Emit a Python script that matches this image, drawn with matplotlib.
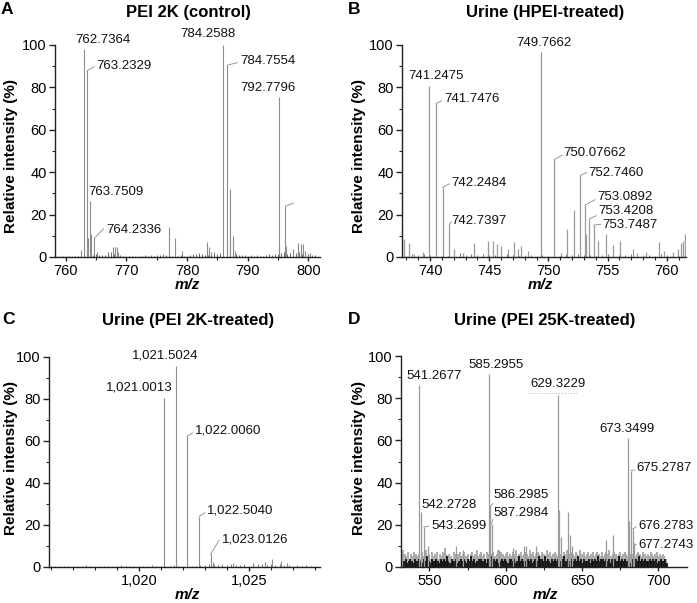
# -*- coding: utf-8 -*-
"""
Mass spectra of PEI 2K control and urine samples (four panels).
"""

import numpy as np
import matplotlib
matplotlib.use("Agg")
import matplotlib.pyplot as plt
from matplotlib.ticker import MultipleLocator, FuncFormatter

plt.rcParams['font.family'] = ['Liberation Sans', 'DejaVu Sans']

# ---------------- data ----------------
# Panel A: PEI 2K (control)
peaks_a_mz = [762.6, 763.08, 763.57, 763.68, 764.01, 764.18, 764.73, 765.1,
              767.86, 768.13, 768.4, 768.7, 777.09, 777.97, 779.18, 783.35,
              783.63, 783.9, 785.99, 786.54, 786.65, 787.14, 787.53, 787.9,
              795.1, 795.2, 796.2, 796.3, 797.4, 798.35, 798.8, 799.07,
              799.45, 800.3]
peaks_a_h = [3.5, 98, 88, 9, 26.4, 11, 8.8, 2.5,
             4.5, 4.8, 4.5, 2.5, 14.3, 8.8, 3, 7,
             4.5, 2.5, 100, 6, 90.5, 32, 10, 3,
             75.6, 7, 24, 5, 4, 6.5, 6, 6,
             3, 2]
noise_a_mz = np.arange(758.5, 801.01, 0.5)
noise_a_h = [0.3, 0.5, 0.4, 0.6, 0.5, 0.7, 0.4, 0.6,
             1.5, 2.0, 1.2, 1.8, 1.0, 1.4, 0.8, 1.1,
             1.0, 2.2, 2.5, 1.6, 1.2, 0.9, 0.7, 0.6,
             0.5, 0.7, 0.4, 0.6, 0.5, 0.8, 0.6, 0.9,
             0.7, 1.0, 0.8, 1.3, 0.9, 1.1, 0.7, 0.5,
             0.6, 0.8, 0.5, 0.7, 1.0, 1.6, 1.2, 2.0,
             1.4, 1.1, 0.9, 1.8, 2.2, 1.5, 1.9, 1.3,
             1.7, 1.2, 1.0, 1.4, 0.9, 0.8, 1.1, 0.7,
             0.9, 0.6, 0.8, 0.5, 0.7, 1.0, 1.3, 0.9,
             1.6, 1.2, 1.8, 2.4, 1.5, 2.0, 2.6, 1.9,
             2.2, 1.6, 1.8, 1.3, 1.0, 0.8]
# (label, peak m/z, peak height, text x, text y, leader end or None)
labels_a = [
    ("762.7364", 763.08, 98, 761.54, 102.4, None),
    ("763.2329", 763.57, 88, 765.1, 90.3, (764.73, 89.8)),
    ("763.7509", 764.01, 26.4, 763.74, 30.5, None),
    ("764.2336", 764.73, 8.8, 766.65, 12.7, (766.2, 13.3)),
    ("784.2588", 785.99, 100, 778.85, 105, None),
    ("784.7554", 786.65, 90.5, 788.85, 92.5, (788.3, 91.7)),
    ("792.7796", 795.1, 75.6, 788.85, 79.9, None),
    ("", 796.2, 24, 797.5, 25.3, (797.5, 25.3)),
]

# Panel B: Urine (HPEI-treated)
peaks_b_mz = [737.83, 738.25, 738.68, 739.38, 739.94, 740.51, 741.07, 741.63,
              742.06, 742.76, 743.75, 744.87, 745.3, 745.63, 746.0, 746.56,
              747.07, 747.46, 747.69, 748.25, 749.41, 750.51, 751.07, 751.58,
              752.14, 752.7, 753.1, 753.21, 753.46, 753.83, 754.23, 754.9,
              755.44, 756.03, 757.13, 757.49, 758.25, 759.32, 759.75, 760.51,
              760.93, 761.21, 761.35, 761.58]
peaks_b_h = [8.3, 6.4, 1.5, 2.5, 80.7, 72.5, 32.9, 15.4,
             4, 2, 6.8, 7.7, 7.5, 6, 5, 4,
             7, 4, 5, 3, 96.9, 46, 2, 13,
             22.3, 38.5, 24.5, 11, 18, 15, 7.5, 11,
             5.5, 7.5, 4, 2, 2.5, 7, 3, 2.5,
             4, 6.5, 7.5, 11]
noise_b_mz = np.arange(737.5, 761.01, 0.5)
noise_b_h = [1.0, 0.6, 1.2, 0.8, 1.5, 0.9, 0.5, 0.7,
             0.6, 1.4, 1.8, 1.1, 1.6, 0.9, 1.3, 0.8,
             1.0, 0.7, 1.2, 0.9, 0.6, 1.1, 0.8, 0.5,
             0.9, 0.6, 1.2, 0.7, 1.5, 1.0, 1.3, 0.8,
             1.1, 0.6, 0.9, 1.2, 0.7, 1.0, 0.8, 1.3,
             0.6, 0.9, 1.1, 0.7, 1.4, 0.8, 1.0, 0.6]
labels_b = [
    ("741.2475", 739.94, 80.7, 738.2, 85.4, None),
    ("741.7476", 740.51, 72.5, 741.2, 74.5, (740.99, 73.7)),
    ("742.2484", 741.07, 32.9, 741.83, 35, (741.63, 34.5)),
    ("742.7397", 741.63, 15.4, 741.83, 17, (741.8, 16.5)),
    ("749.7662", 749.41, 96.9, 747.27, 101, None),
    ("750.07662", 750.51, 46, 751.3, 48.9, (751.15, 48)),
    ("752.7460", 752.7, 38.5, 753.38, 39.8, (753.24, 39.8)),
    ("753.0892", 753.1, 24.5, 754.1, 28.1, (753.94, 27)),
    ("753.4208", 753.46, 18, 754.2, 21.7, (754.03, 19.5)),
    ("753.7487", 753.83, 15, 754.6, 15, (754.45, 15.5)),
]

# Panel C: Urine (PEI 2K-treated)
peaks_c_mz = [1021.15, 1021.67, 1022.2, 1022.74, 1023.26, 1023.38, 1024.29,
              1025.2, 1025.73, 1026.06, 1026.45, 1026.71]
peaks_c_h = [80.5, 95.6, 62.3, 24, 6, 2.5, 2, 2, 2.5, 3.8, 3, 2]
noise_c_mz = np.arange(1016.0, 1028.01, 0.2)
noise_c_h = [0.4, 0.6, 0.3, 0.5, 0.7, 0.4, 0.6, 0.5, 0.8, 0.4,
             0.6, 0.3, 0.7, 0.5, 0.4, 0.6, 0.9, 0.5, 0.4, 0.7,
             0.5, 0.6, 0.4, 0.8, 0.5, 0.6, 0.4, 0.7, 0.9, 0.6,
             0.5, 0.8, 0.6, 0.7, 1.1, 0.9, 1.5, 1.2, 1.0, 1.4,
             0.9, 1.2, 0.8, 1.1, 1.3, 0.7, 1.0, 1.6, 1.2, 0.9,
             1.4, 1.0, 1.3, 0.8, 1.1, 0.7, 0.9, 0.6, 0.8, 0.5,
             0.4]
labels_c = [
    ("1,021.5024", 1021.67, 95.6, 1019.7, 100.8, None),
    ("1,021.0013", 1021.15, 80.5, 1018.5, 85.4, None),
    ("1,022.0060", 1022.2, 62.3, 1022.55, 65.2, (1022.44, 63.9)),
    ("1,022.5040", 1022.74, 24, 1023.11, 26.7, (1023.0, 25.9)),
    ("1,023.0126", 1023.26, 6, 1023.76, 13.3, (1023.64, 12.7)),
]

# Panel D: Urine (PEI 25K-treated)
peaks_d_mz = [543.45, 544.54, 546.29, 548.9, 567.5, 571.8, 589.3, 589.96,
              590.83, 595.85, 604.59, 612.23, 613.32, 619.87, 634.5, 635.15,
              636.24, 641.05, 642.36, 643.23, 665.72, 670.09, 679.91, 681.0,
              682.1, 683.19, 684.28]
peaks_d_h = [86.3, 26, 19, 10, 10, 8, 91.5, 28.7,
             20.5, 8, 9, 10, 10, 10, 81.5, 27,
             14, 26, 15, 10, 13, 15, 61, 22,
             45.7, 18, 11]
noise_d_mz = np.arange(533, 706, 1)
noise_d_gray = [8, 6, 5, 7, 4, 6, 5, 7, 6, 5,
                6, 4, 7, 5, 6, 8, 5, 6, 4, 7,
                5, 6, 7, 4, 6, 5, 7, 9, 6, 5,
                6, 5, 4, 7, 6, 5, 6, 7, 5, 6,
                7, 5, 6, 4, 6, 7, 5, 6, 8, 5,
                6, 7, 5, 6, 4, 7, 6, 5, 6, 7,
                5, 6, 8, 5, 7, 6, 5, 6, 7, 5,
                6, 5, 7, 6, 8, 5, 6, 7, 5, 6,
                7, 6, 5, 8, 6, 7, 5, 6, 7, 6,
                5, 7, 6, 5, 8, 6, 7, 5, 6, 7,
                6, 5, 7, 6, 5, 7, 6, 8, 5, 6,
                7, 6, 5, 7, 6, 5, 8, 6, 7, 5,
                6, 7, 5, 6, 7, 5, 6, 7, 6, 5,
                7, 5, 6, 7, 6, 8, 5, 6, 7, 6,
                5, 6, 7, 5, 6, 7, 6, 5, 7, 6,
                6, 7, 5, 6, 7, 6, 5, 7, 6, 5,
                6, 5, 7, 6, 5, 6, 7, 5, 6, 5,
                6, 5, 4]
noise_d_dark = [3, 4, 2, 3, 4, 3, 2, 4, 3, 3,
                4, 3, 2, 4, 3, 5, 3, 2, 4, 3,
                3, 4, 3, 2, 4, 3, 4, 3, 5, 3,
                2, 4, 3, 3, 4, 2, 3, 4, 3, 4,
                3, 2, 4, 3, 5, 3, 4, 2, 3, 4,
                4, 3, 3, 4, 2, 4, 3, 5, 3, 4,
                3, 4, 2, 3, 4, 3, 4, 3, 2, 4,
                4, 3, 4, 2, 3, 5, 3, 4, 3, 3,
                3, 4, 3, 4, 2, 3, 4, 3, 5, 4,
                4, 3, 5, 3, 4, 3, 2, 4, 3, 4,
                3, 4, 3, 2, 4, 5, 3, 4, 3, 3,
                4, 3, 4, 3, 5, 3, 4, 2, 4, 3,
                3, 4, 2, 4, 3, 4, 3, 5, 3, 4,
                4, 3, 4, 3, 4, 2, 4, 3, 4, 3,
                3, 5, 3, 4, 3, 4, 3, 4, 2, 4,
                4, 3, 4, 3, 5, 3, 4, 3, 4, 3,
                3, 4, 3, 4, 3, 4, 2, 3, 4, 3,
                3, 4, 2]
labels_d = [
    ("541.2677", 543.45, 86.3, 534.72, 90.5, None),
    ("585.2955", 589.3, 91.5, 575.55, 95.7, None),
    ("629.3229", 634.5, 81.5, 616.16, 86.8, None),
    ("673.3499", 679.91, 61, 661.35, 65.3, None),
    ("675.2787", 682.1, 45.7, 685.37, 46.8, (684.7, 46)),
    ("542.2728", 544.54, 26, 544.98, 29.5, None),
    ("543.2699", 546.29, 19, 551.53, 19.2, (549.3, 19.2)),
    ("586.2985", 589.96, 28.7, 592.14, 34.2, (591.5, 30)),
    ("587.2984", 590.83, 20.5, 592.14, 25.5, (591.5, 22.5)),
    ("676.2783", 683.19, 18, 686.9, 19.6, (685.37, 19)),
    ("677.2743", 684.28, 11, 686.9, 10.3, (685.6, 10.5)),
]

# ---------------- figure ----------------
W, H = 697, 603
fig = plt.figure(figsize=(W / 100, H / 100), dpi=100)


def px_rect(left, right, top, bottom):
    return [left / W, 1 - bottom / H, (right - left) / W, (bottom - top) / H]


def fig_text(x, y, s, **kw):
    fig.text(x / W, 1 - y / H, s, **kw)


def style_axis(ax, xlim, major, minor, fmt=None):
    ax.set_xlim(*xlim)
    ax.set_ylim(0, 100)
    for side in ['top', 'right']:
        ax.spines[side].set_visible(False)
    for side in ['left', 'bottom']:
        ax.spines[side].set_linewidth(1.0)
        ax.spines[side].set_color('#222222')
    ax.yaxis.set_major_locator(MultipleLocator(20))
    ax.yaxis.set_minor_locator(MultipleLocator(10))
    ax.xaxis.set_major_locator(MultipleLocator(major))
    ax.xaxis.set_minor_locator(MultipleLocator(minor))
    if fmt is not None:
        ax.xaxis.set_major_formatter(fmt)
    ax.tick_params(axis='both', which='major', labelsize=10.5, length=4,
                   width=1.0, color='#222222', pad=2)
    ax.tick_params(axis='both', which='minor', length=2.5, width=0.8,
                   color='#222222')
    ax.tick_params(axis='x', which='major', length=3)


def draw_labels(ax, labels):
    for text, mz, h, tx, ty, lead in labels:
        if lead is not None:
            ax.plot([mz, lead[0]], [h, lead[1]], color='#888888', lw=0.6,
                    clip_on=False)
        if text:
            ax.text(tx, ty, text, fontsize=9.5, ha='left', va='center',
                    color='#111111', clip_on=False)


comma_fmt = FuncFormatter(lambda v, p: '{:,.0f}'.format(v))

# A
ax_a = fig.add_axes(px_rect(55, 320, 45, 257))
ax_a.vlines(noise_a_mz, 0, noise_a_h, color='#555555', lw=0.6)
ax_a.vlines(peaks_a_mz, 0, peaks_a_h, color='#8c8c8c', lw=0.8)
style_axis(ax_a, (758.24, 801.9), 10, 5)
draw_labels(ax_a, labels_a)

# B
ax_b = fig.add_axes(px_rect(402, 686, 45, 257))
ax_b.vlines(noise_b_mz, 0, noise_b_h, color='#666666', lw=0.6)
ax_b.vlines(peaks_b_mz, 0, peaks_b_h, color='#9a9a9a', lw=0.9)
style_axis(ax_b, (737.63, 761.63), 5, 1)
draw_labels(ax_b, labels_b)

# C
ax_c = fig.add_axes(px_rect(49, 320, 357, 567))
ax_c.vlines(noise_c_mz, 0, noise_c_h, color='#666666', lw=0.6)
ax_c.vlines(peaks_c_mz, 0, peaks_c_h, color='#8c8c8c', lw=0.8)
style_axis(ax_c, (1015.92, 1028.23), 5, 1, comma_fmt)
draw_labels(ax_c, labels_c)

# D
ax_d = fig.add_axes(px_rect(401, 687, 356, 567))
ax_d.vlines(noise_d_mz, 0, noise_d_gray, color='#a6a6a6', lw=1.3)
ax_d.vlines(noise_d_mz + 0.5, 0, noise_d_dark, color='#111111', lw=1.3)
ax_d.vlines(peaks_d_mz, 0, peaks_d_h, color='#9a9a9a', lw=0.9)
ax_d.plot([615.5, 647.2], [82.3, 82.3], color='#bbbbbb', lw=0.8, ls=':',
          clip_on=False)
style_axis(ax_d, (531.4, 718.8), 50, 25)
draw_labels(ax_d, labels_d)

# titles, panel letters and axis labels
title_kw = dict(fontsize=12, fontweight='bold', ha='center', va='center')
fig_text(188, 12, 'PEI 2K (control)', **title_kw)
fig_text(545, 12, 'Urine (HPEI-treated)', **title_kw)
fig_text(188, 321, 'Urine (PEI 2K-treated)', **title_kw)
fig_text(545, 321, 'Urine (PEI 25K-treated)', **title_kw)

letter_kw = dict(fontsize=12.5, fontweight='bold', ha='left', va='center')
fig_text(1, 10, 'A', **letter_kw)
fig_text(348, 10, 'B', **letter_kw)
fig_text(2, 319, 'C', **letter_kw)
fig_text(348, 319, 'D', **letter_kw)

ylab_kw = dict(fontsize=11, fontweight='bold', rotation=90, ha='center',
               va='center')
fig_text(11, 156, 'Relative intensity (%)', **ylab_kw)
fig_text(359, 156, 'Relative intensity (%)', **ylab_kw)
fig_text(11, 458, 'Relative intensity (%)', **ylab_kw)
fig_text(359, 458, 'Relative intensity (%)', **ylab_kw)

xlab_kw = dict(fontsize=11, fontweight='bold', style='italic', ha='center',
               va='center')
fig_text(187, 285, 'm/z', **xlab_kw)
fig_text(540, 285, 'm/z', **xlab_kw)
fig_text(187, 595, 'm/z', **xlab_kw)
fig_text(545, 595, 'm/z', **xlab_kw)

fig.savefig('out.png', dpi=100)
